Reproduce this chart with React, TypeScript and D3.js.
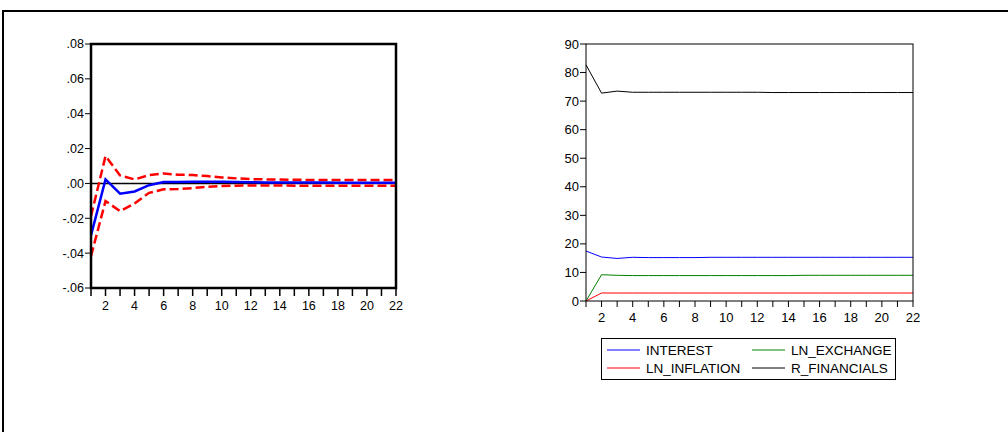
import React from "react";
import * as d3 from "d3";

// horizon (periods 1..22)
const periods = d3.range(1, 23);

// left panel: impulse response with +/- 2 S.E. bands
const response = [
  -0.0298, 0.0023, -0.0059, -0.0046, -0.001, 0.0008, 0.0008, 0.0009, 0.001, 0.0009, 0.0008,
  0.0007, 0.0006, 0.0006, 0.0005, 0.0005, 0.0005, 0.0004, 0.0004, 0.0004, 0.0004, 0.0004,
];
const upperBand = [
  -0.0188, 0.0157, 0.0046, 0.0023, 0.0048, 0.0057, 0.005, 0.0048, 0.0042, 0.0034, 0.0029,
  0.0025, 0.0023, 0.0022, 0.0021, 0.002, 0.002, 0.002, 0.0019, 0.0019, 0.0019, 0.0019,
];
const lowerBand = [
  -0.0417, -0.0101, -0.0159, -0.0115, -0.0054, -0.0034, -0.0032, -0.0027, -0.0019, -0.0015,
  -0.0013, -0.0012, -0.0012, -0.0012, -0.0013, -0.0013, -0.0013, -0.0013, -0.0013, -0.0013,
  -0.0013, -0.0013,
];
const leftTicks = [-0.06, -0.04, -0.02, 0, 0.02, 0.04, 0.06, 0.08];

// right panel: variance decomposition
const interest = [
  17.5, 15.4, 14.9, 15.3, 15.2, 15.2, 15.2, 15.2, 15.3, 15.3, 15.3, 15.3, 15.3, 15.3, 15.3,
  15.3, 15.3, 15.3, 15.3, 15.3, 15.3, 15.3,
];
const lnInflation = [
  0, 2.8, 2.8, 2.8, 2.8, 2.8, 2.8, 2.8, 2.8, 2.8, 2.8, 2.8, 2.8, 2.8, 2.8, 2.8, 2.8, 2.8, 2.8,
  2.8, 2.8, 2.8,
];
const lnExchange = [
  0, 9.2, 9.0, 8.9, 8.9, 8.9, 8.9, 8.9, 8.9, 8.9, 8.9, 8.9, 8.9, 8.9, 9.0, 9.0, 9.0, 9.0, 9.0,
  9.0, 9.0, 9.0,
];
const rFinancials = [
  82.7, 72.8, 73.5, 73.1, 73.1, 73.1, 73.1, 73.1, 73.1, 73.1, 73.1, 73.1, 73.0, 73.0, 73.0,
  73.0, 73.0, 73.0, 73.0, 73.0, 73.0, 73.0,
];
const rightTicks = [0, 10, 20, 30, 40, 50, 60, 70, 80, 90];

const series = [
  { name: "INTEREST", values: interest, color: "#0000ff" },
  { name: "LN_EXCHANGE", values: lnExchange, color: "#008000" },
  { name: "LN_INFLATION", values: lnInflation, color: "#ff0000" },
  { name: "R_FINANCIALS", values: rFinancials, color: "#000000" },
];

const font = "'Liberation Sans', Arial, sans-serif";

export default function App() {
  // left panel
  const xL = d3.scaleLinear().domain([1, 22]).range([91, 396]);
  const yL = d3.scaleLinear().domain([-0.06, 0.08]).range([288, 44]);
  const lineL = d3
    .line<number>()
    .x((_, i) => xL(periods[i]))
    .y((d) => yL(d));

  // right panel
  const xR = d3.scaleLinear().domain([1, 22]).range([586, 913]);
  const yR = d3.scaleLinear().domain([0, 90]).range([301, 44]);
  const lineR = d3
    .line<number>()
    .x((_, i) => xR(periods[i]))
    .y((d) => yR(d));

  const fmtL = (v: number) => {
    const s = Math.abs(v).toFixed(2).replace(/^0/, "");
    return v < 0 ? "-" + s : s;
  };

  return (
    <div style={{ position: "absolute", left: 0, top: 0 }}>
      <svg width={1008} height={432} style={{ display: "block", background: "#fff" }}>
        {/* outer frame */}
        <path d="M3,432 V11 H1008" fill="none" stroke="#000" strokeWidth={2} />

        {/* ---- left panel ---- */}
        <g fontFamily={font} fontSize={12.5} fill="#000">
          {leftTicks.map((t) => (
            <g key={t}>
              <line x1={85} x2={91} y1={yL(t)} y2={yL(t)} stroke="#000" strokeWidth={1} />
              <text x={84} y={yL(t)} dy="0.35em" textAnchor="end">
                {fmtL(t)}
              </text>
            </g>
          ))}
          {periods.map((p) => (
            <g key={p}>
              <line x1={xL(p)} x2={xL(p)} y1={288} y2={296} stroke="#000" strokeWidth={1.5} />
              {p % 2 === 0 && (
                <text x={xL(p)} y={310} textAnchor="middle">
                  {p}
                </text>
              )}
            </g>
          ))}
          <line x1={91} x2={396} y1={yL(0)} y2={yL(0)} stroke="#000" strokeWidth={1.5} />
          <path d={lineL(upperBand) || ""} fill="none" stroke="#ff0000" strokeWidth={2.5} strokeDasharray="9,4" />
          <path d={lineL(lowerBand) || ""} fill="none" stroke="#ff0000" strokeWidth={2.5} strokeDasharray="9,4" />
          <path d={lineL(response) || ""} fill="none" stroke="#0000ff" strokeWidth={2.5} />
          <rect x={91} y={44} width={305} height={244} fill="none" stroke="#000" strokeWidth={2.5} />
        </g>

        {/* ---- right panel ---- */}
        <g fontFamily={font} fontSize={13} fill="#000">
          {rightTicks.map((t) => (
            <g key={t}>
              <line x1={580} x2={586} y1={yR(t)} y2={yR(t)} stroke="#000" strokeWidth={1} />
              <text x={579} y={yR(t)} dy="0.35em" textAnchor="end">
                {t}
              </text>
            </g>
          ))}
          {periods.map((p) => (
            <g key={p}>
              <line x1={xR(p)} x2={xR(p)} y1={301} y2={307} stroke="#000" strokeWidth={1} />
              {p % 2 === 0 && (
                <text x={xR(p)} y={322} textAnchor="middle">
                  {p}
                </text>
              )}
            </g>
          ))}
          {series.map((s) => (
            <path key={s.name} d={lineR(s.values) || ""} fill="none" stroke={s.color} strokeWidth={1} />
          ))}
          <rect x={586} y={44} width={327} height={257} fill="none" stroke="#000" strokeWidth={1} />

          {/* legend */}
          <rect x={601.5} y={338.5} width={294} height={41} fill="#fff" stroke="#000" strokeWidth={1} />
          {series.map((s, i) => {
            const col = i % 2;
            const row = Math.floor(i / 2);
            const lx = col === 0 ? 607 : 752;
            const ly = 350 + row * 18;
            return (
              <g key={s.name}>
                <line x1={lx} x2={lx + 33} y1={ly} y2={ly} stroke={s.color} strokeWidth={1} />
                <text x={lx + 39} y={ly} dy="0.35em" fontSize={13.5}>
                  {s.name}
                </text>
              </g>
            );
          })}
        </g>
      </svg>
    </div>
  );
}
